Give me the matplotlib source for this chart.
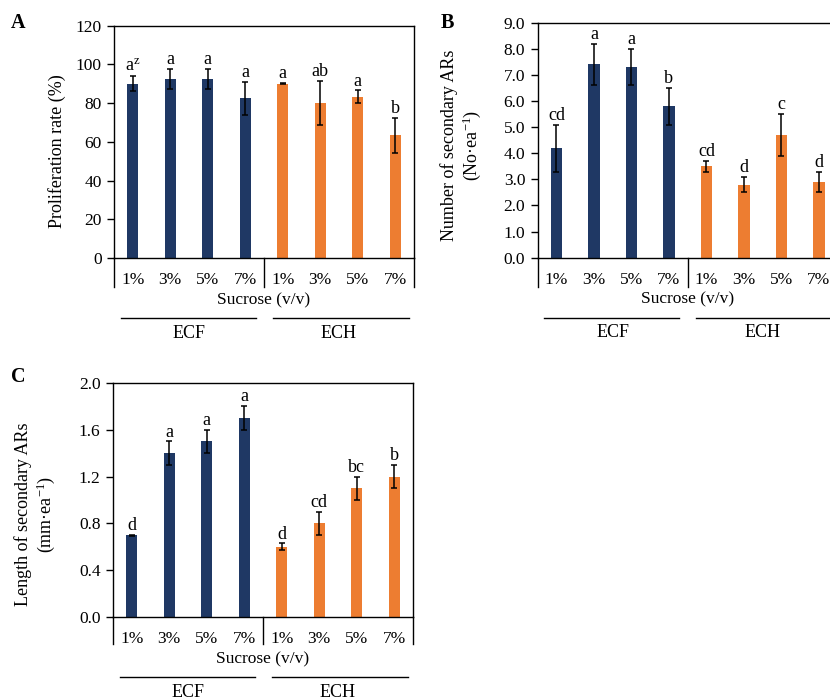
import matplotlib

matplotlib.use("Agg")
import matplotlib.pyplot as plt  # noqa: E402
from matplotlib.lines import Line2D  # noqa: E402
from matplotlib.transforms import blended_transform_factory  # noqa: E402
import numpy as np  # noqa: E402

plt.rcParams["font.family"] = ["Liberation Serif", "DejaVu Serif"]
plt.rcParams["mathtext.fontset"] = "custom"
plt.rcParams["mathtext.rm"] = "Liberation Serif"
plt.rcParams["mathtext.it"] = "Liberation Serif:italic"

# ── Data ──
groups = ["ECF", "ECH"]
sucrose = ["1%", "3%", "5%", "7%"]

prolif_mean = [90, 92.5, 92.5, 82.5, 90, 80, 83.3, 63.3]
prolif_err = [4, 5, 5, 8.5, 0.3, 11.5, 3.3, 9]
prolif_sig = [r"a$^{\mathrm{z}}$", "a", "a", "a", "a", "ab", "a", "b"]

number_mean = [4.2, 7.4, 7.3, 5.8, 3.5, 2.8, 4.7, 2.9]
number_err = [0.9, 0.8, 0.7, 0.7, 0.2, 0.3, 0.8, 0.4]
number_sig = ["cd", "a", "a", "b", "cd", "d", "c", "d"]

length_mean = [0.7, 1.4, 1.5, 1.7, 0.6, 0.8, 1.1, 1.2]
length_err = [0.005, 0.1, 0.1, 0.1, 0.03, 0.1, 0.1, 0.1]
length_sig = ["d", "a", "a", "a", "d", "cd", "bc", "b"]

NAVY = "#1f3864"
ORANGE = "#ed7d31"
W, H = 830, 700
FS_TICK = 12.5
FS_TEXT = 13


def panel(fig, px_left, px_top, px_zero, px_below, mean, err, sig, ymax, ystep,
          fmt, ylabel, label_xy, letter, letter_xy):
    """px_* are pixel positions in the 830x700 canvas."""
    width = 300
    ax = fig.add_axes([px_left / W, 1 - px_zero / H, width / W, (px_zero - px_top) / H])
    x = np.arange(len(mean))
    colors = [NAVY] * 4 + [ORANGE] * 4
    ax.bar(x, mean, width=0.3, color=colors, zorder=2)
    ax.errorbar(x, mean, yerr=err, fmt="none", ecolor="black", elinewidth=1.1,
                capsize=2.5, capthick=1.1, zorder=3)
    for xi, m, e, s in zip(x, mean, err, sig):
        ax.annotate(s, (xi, m + e), xytext=(0, 0.5), textcoords="offset points",
                    ha="center", va="bottom", fontsize=FS_TEXT)
    ax.set_xlim(-0.5, 7.5)
    ax.set_ylim(0, ymax)
    ax.set_yticks(np.arange(0, ymax + ystep / 2, ystep))
    ax.yaxis.set_major_formatter(matplotlib.ticker.FormatStrFormatter(fmt))
    ax.set_xticks([])
    ax.tick_params(axis="y", direction="out", length=5, width=1, labelsize=FS_TICK, pad=4)
    for s in ax.spines.values():
        s.set_linewidth(1)
    ax.set_ylabel(ylabel, fontsize=FS_TEXT, linespacing=1.15)
    ax.yaxis.set_label_coords(*label_xy)

    # category area below the zero line
    bt = blended_transform_factory(ax.transData, fig.transFigure)
    y_zero = 1 - px_zero / H
    y_below = 1 - px_below / H
    for xv in (-0.5, 3.5, 7.5):
        ax.add_line(Line2D([xv, xv], [y_zero, y_below], transform=bt, color="black",
                           lw=1, clip_on=False))
    for xi in x:
        ax.text(xi, 1 - (px_zero + 22) / H, sucrose[xi % 4], transform=bt,
                ha="center", va="center", fontsize=FS_TICK)
    ax.text(3.5, 1 - (px_zero + 42) / H, "Sucrose (v/v)", transform=bt,
            ha="center", va="center", fontsize=FS_TICK)
    for (x0, x1), g, gx in zip([(-0.32, 3.28), (3.73, 7.36)], groups, [1.5, 5.5]):
        ax.add_line(Line2D([x0, x1], [1 - (px_zero + 60) / H] * 2, transform=bt,
                           color="black", lw=1, clip_on=False))
        ax.text(gx, 1 - (px_zero + 75) / H, g, transform=bt, ha="center",
                va="center", fontsize=FS_TEXT)

    fig.text(letter_xy[0] / W, 1 - letter_xy[1] / H, letter, fontsize=14.5,
             fontweight="bold", ha="center", va="center")
    return ax


fig = plt.figure(figsize=(W / 100, H / 100), dpi=100, facecolor="white")

panel(fig, 114, 25.6, 258, 287, prolif_mean, prolif_err, prolif_sig, 120, 20,
      "%d", "Proliferation rate (%)", (-0.16, 0.46), "A", (18, 23))
panel(fig, 537.7, 22.7, 257.7, 287, number_mean, number_err, number_sig, 9.0, 1.0,
      "%.1f", "Number of secondary ARs\n(No·ea$^{-1}$)", (-0.182, 0.48),
      "B", (447, 23))
panel(fig, 113, 382.7, 617.3, 644, length_mean, length_err, length_sig, 2.0, 0.4,
      "%.1f", "Length of secondary ARs\n(mm·ea$^{-1}$)", (-0.187, 0.44),
      "C", (18, 377))

fig.savefig("out.png", dpi=100, facecolor="white")
